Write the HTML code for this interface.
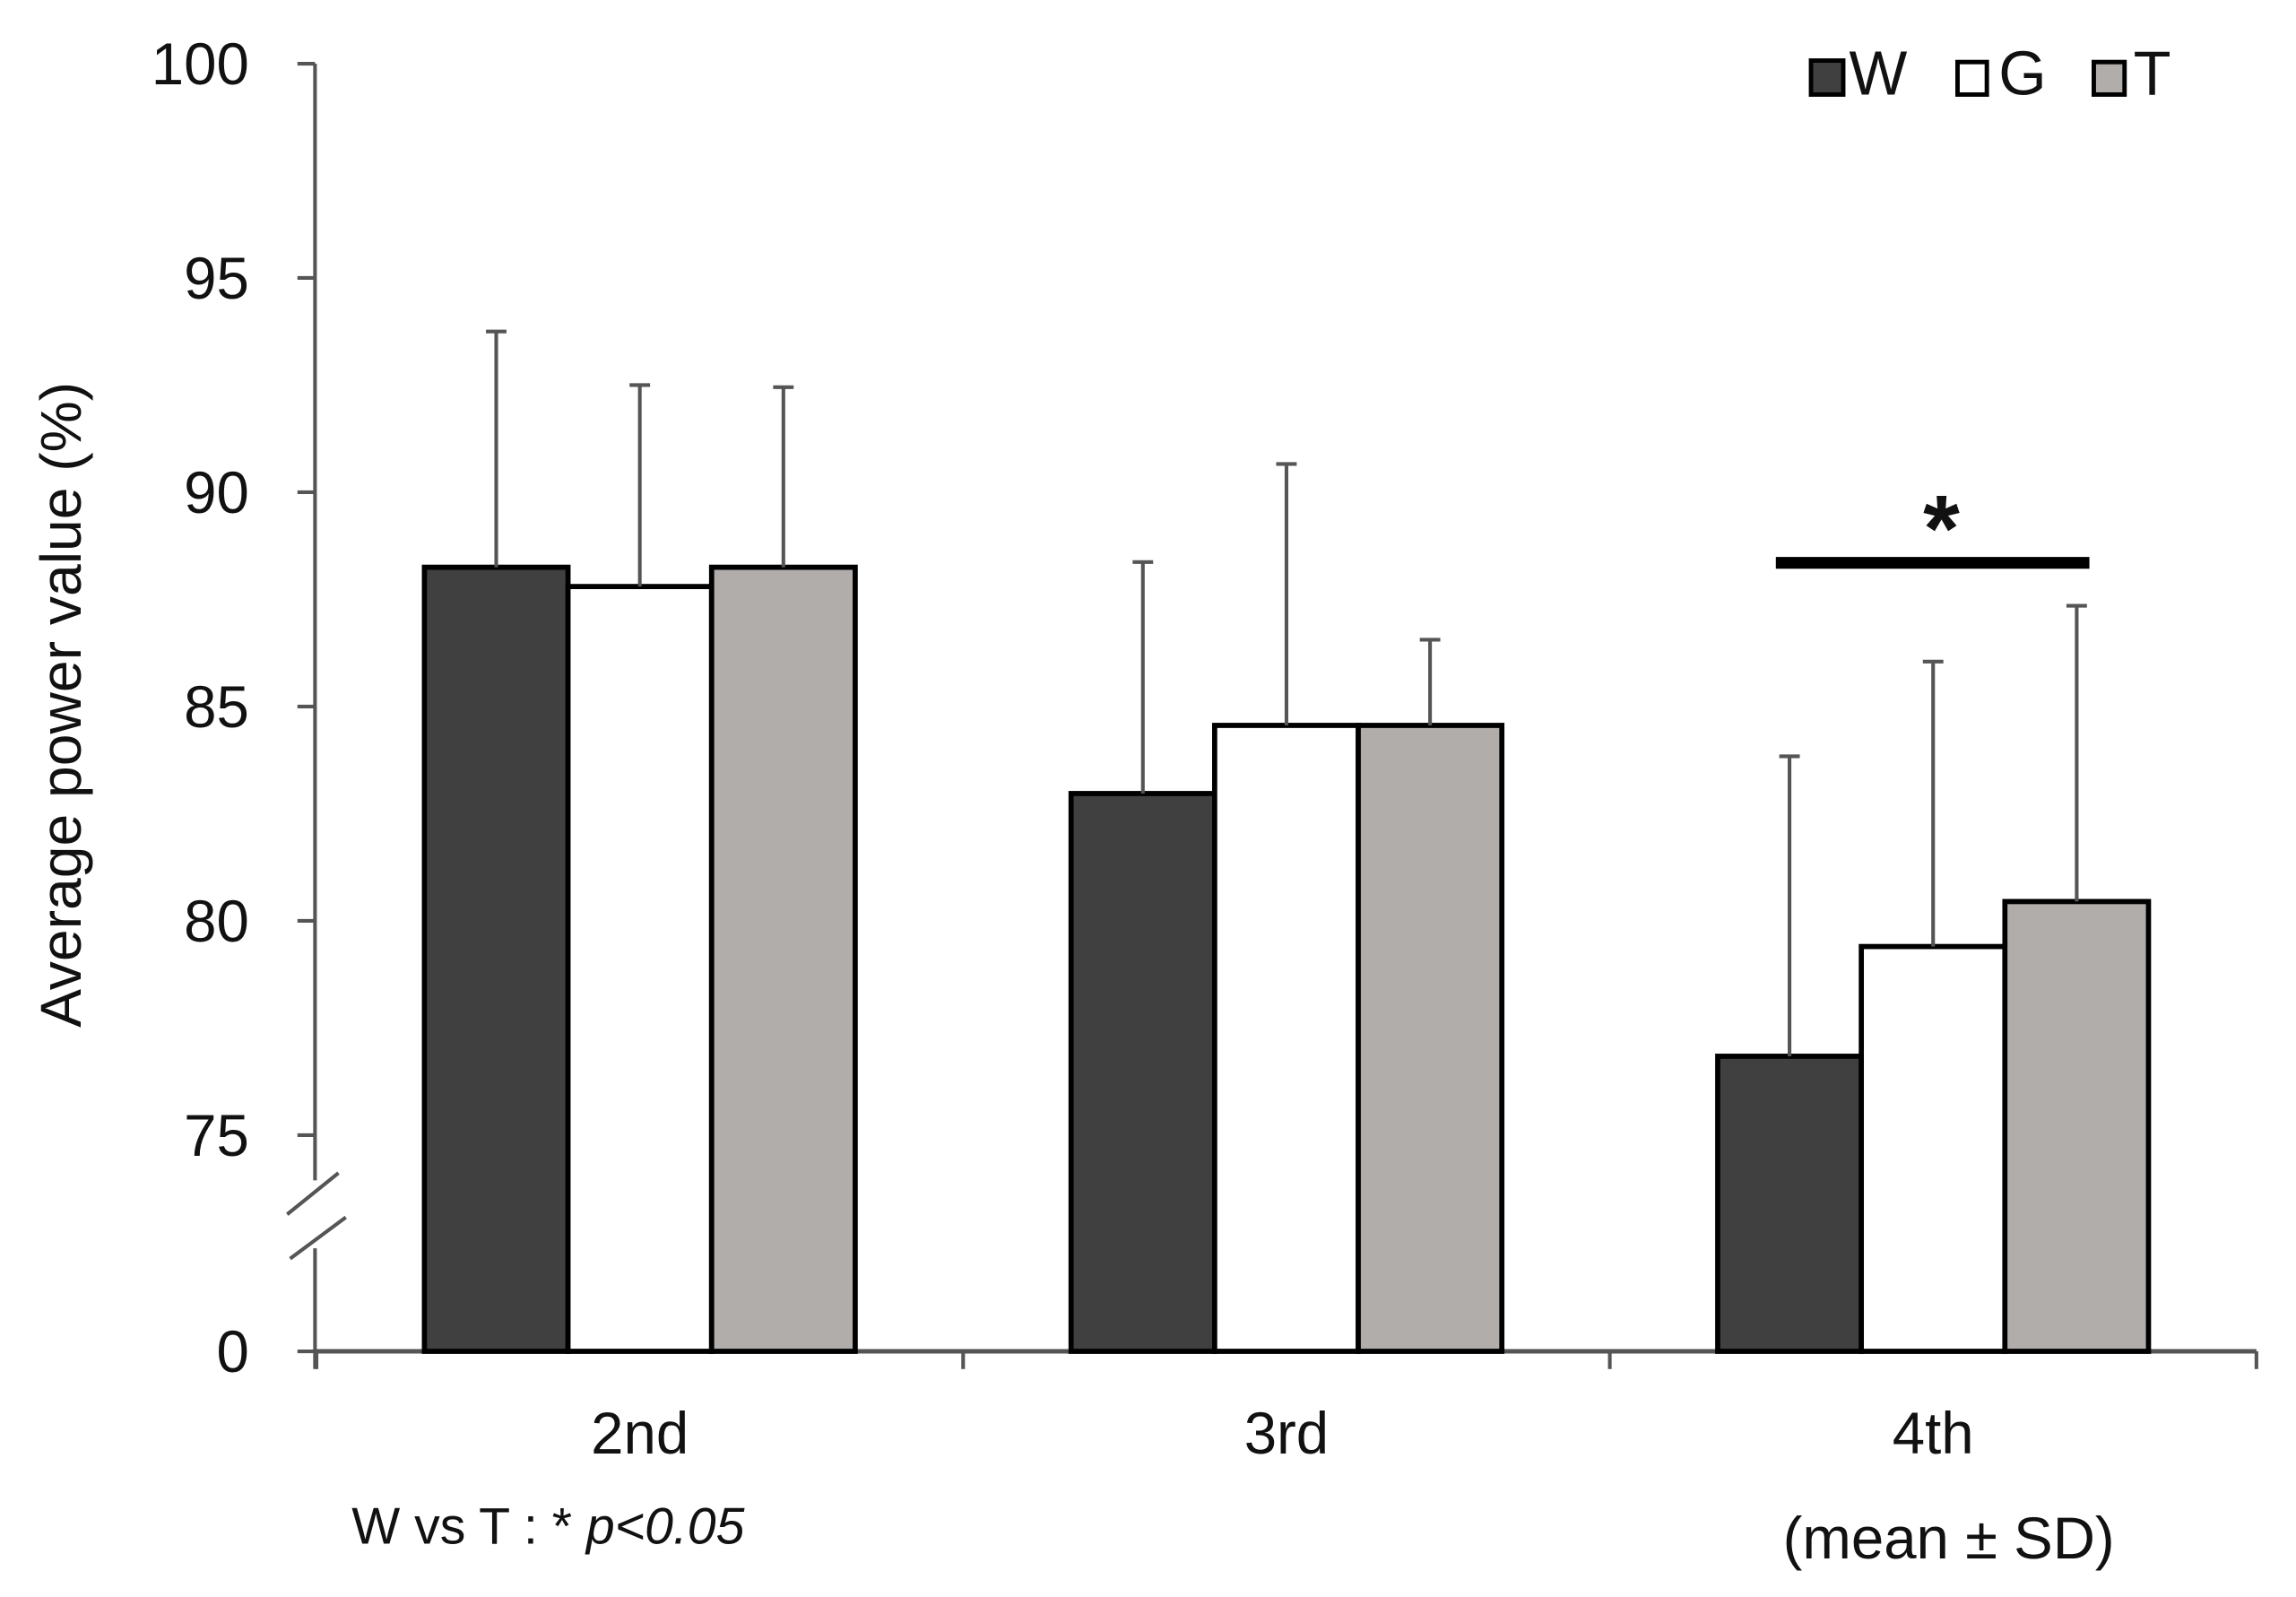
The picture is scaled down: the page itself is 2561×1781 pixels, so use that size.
<!DOCTYPE html>
<html><head><meta charset="utf-8"><style>
html,body{margin:0;padding:0;background:#fff;}
svg{display:block;}
text{font-family:"Liberation Sans",Arial,sans-serif;fill:#111;}
</style></head><body>
<svg id="chart" width="2561" height="1781" viewBox="0 0 1567 1081" preserveAspectRatio="none" xmlns="http://www.w3.org/2000/svg">
<g id="axes"></g>
<g id="bars"></g>
<g id="errs"></g>
<text transform="translate(55,477) rotate(-90)" text-anchor="middle" font-size="39">Average power value (%)</text>
<text x="240" y="1045" font-size="35">W vs T : * <tspan font-style="italic">p&lt;0.05</tspan></text>
<text x="1330" y="1055" font-size="40" text-anchor="middle">(mean ± SD)</text>
<line x1="1212" y1="381" x2="1426" y2="381" stroke="#000" stroke-width="8"/>
<text x="1325" y="380" font-size="64" font-weight="bold" text-anchor="middle">*</text>
<g>
<rect x="1236" y="41" width="22" height="23" fill="#404040" stroke="#000" stroke-width="3"/>
<text x="1262" y="64" font-size="42">W</text>
<rect x="1336" y="42" width="20" height="22" fill="#fff" stroke="#000" stroke-width="3"/>
<text x="1364" y="64" font-size="42">G</text>
<rect x="1429" y="42" width="21" height="22" fill="#b0adab" stroke="#000" stroke-width="3"/>
<text x="1456" y="64" font-size="42">T</text>
</g>
</svg>
<script>
const categories = ["2nd","3rd","4th"];
const seriesNames = ["W","G","T"];
const meanW = [88.25, 82.97, 76.84];
const meanG = [87.8, 84.56, 79.4];
const meanT = [88.25, 84.56, 80.45];
const sdW = [5.5, 5.4, 7.0];
const sdG = [4.7, 6.1, 6.65];
const sdT = [4.2, 2.0, 6.9];
const yTicks = [75, 80, 85, 90, 95, 100];

const NS = "http://www.w3.org/2000/svg";
const colors = ["#404040", "#ffffff", "#b0adab"];
const axisX = 215, x0 = 216, x1 = 1540, base = 914.7;
const yTop = 43.1, unit = 29.01;
function y(v){ return yTop + (100 - v) * unit; }
const groupW = (x1 - x0) / categories.length;
const barW = 98;
function cx(i){ return x0 + groupW * (i + 0.5); }
function bx(i, s){ return cx(i) + (s - 1.5) * barW; }

function mk(tag, attrs, parent){
  const e = document.createElementNS(NS, tag);
  for (const k in attrs) e.setAttribute(k, attrs[k]);
  parent.appendChild(e);
  return e;
}
const axes = document.getElementById('axes');
const bars = document.getElementById('bars');
const errs = document.getElementById('errs');
const gray = "#555";

let el = mk('line', {x1:axisX, y1:yTop, x2:axisX, y2:799, stroke:gray, 'stroke-width':2.5}, axes);


el = mk('line', {x1:axisX, y1:845, x2:axisX, y2:base + 12, stroke:gray, 'stroke-width':2.5}, axes);


el = mk('line', {x1:196, y1:822, x2:231, y2:794, stroke:gray, 'stroke-width':2.5}, axes);


el = mk('line', {x1:198, y1:852, x2:236, y2:824, stroke:gray, 'stroke-width':2.5}, axes);



yTicks.forEach(t => {
  const yy = y(t);
  let tk = mk('line', {x1:axisX - 12, y1:yy, x2:axisX, y2:yy, stroke:gray, 'stroke-width':2.5}, axes);
  
  
  let lb = mk('text', {x:170, y:yy + 14, 'font-size':40, 'text-anchor':'end'}, axes);
  lb.textContent = t;
  
  
});
el = mk('line', {x1:axisX - 12, y1:base, x2:axisX, y2:base, stroke:gray, 'stroke-width':2.5}, axes);


el = mk('text', {x:170, y:base + 14, 'font-size':40, 'text-anchor':'end'}, axes);
el.textContent = "0";



el = mk('line', {x1:axisX, y1:base, x2:x1, y2:base, stroke:gray, 'stroke-width':3}, axes);


for (let i = 0; i <= categories.length; i++){
  const xx = x0 + groupW * i;
  let tk = mk('line', {x1:xx, y1:base, x2:xx, y2:base + 12, stroke:gray, 'stroke-width':2.5}, axes);
  
  
}
categories.forEach((c, i) => {
  let lb = mk('text', {x:cx(i), y:984, 'font-size':40, 'text-anchor':'middle'}, axes);
  lb.textContent = c;
  
  
});

const means = [meanW, meanG, meanT];
const sds = [sdW, sdG, sdT];
categories.forEach((c, i) => {
  for (let s = 0; s < 3; s++){
    const v = means[s][i];
    const top = y(v);
    const r = mk('rect', {x:bx(i, s), y:top, width:barW, height:base - top, fill:colors[s], stroke:'#000', 'stroke-width':3.5}, bars);
    
    
    const ex = bx(i, s) + barW / 2;
    const et = y(v + sds[s][i]);
    const l = mk('line', {x1:ex, y1:top, x2:ex, y2:et, stroke:gray, 'stroke-width':2.5}, errs);
    
    
    const cap = mk('line', {x1:ex - 7, y1:et, x2:ex + 7, y2:et, stroke:gray, 'stroke-width':2.5}, errs);
    
    
  }
});
</script>
</body></html>
